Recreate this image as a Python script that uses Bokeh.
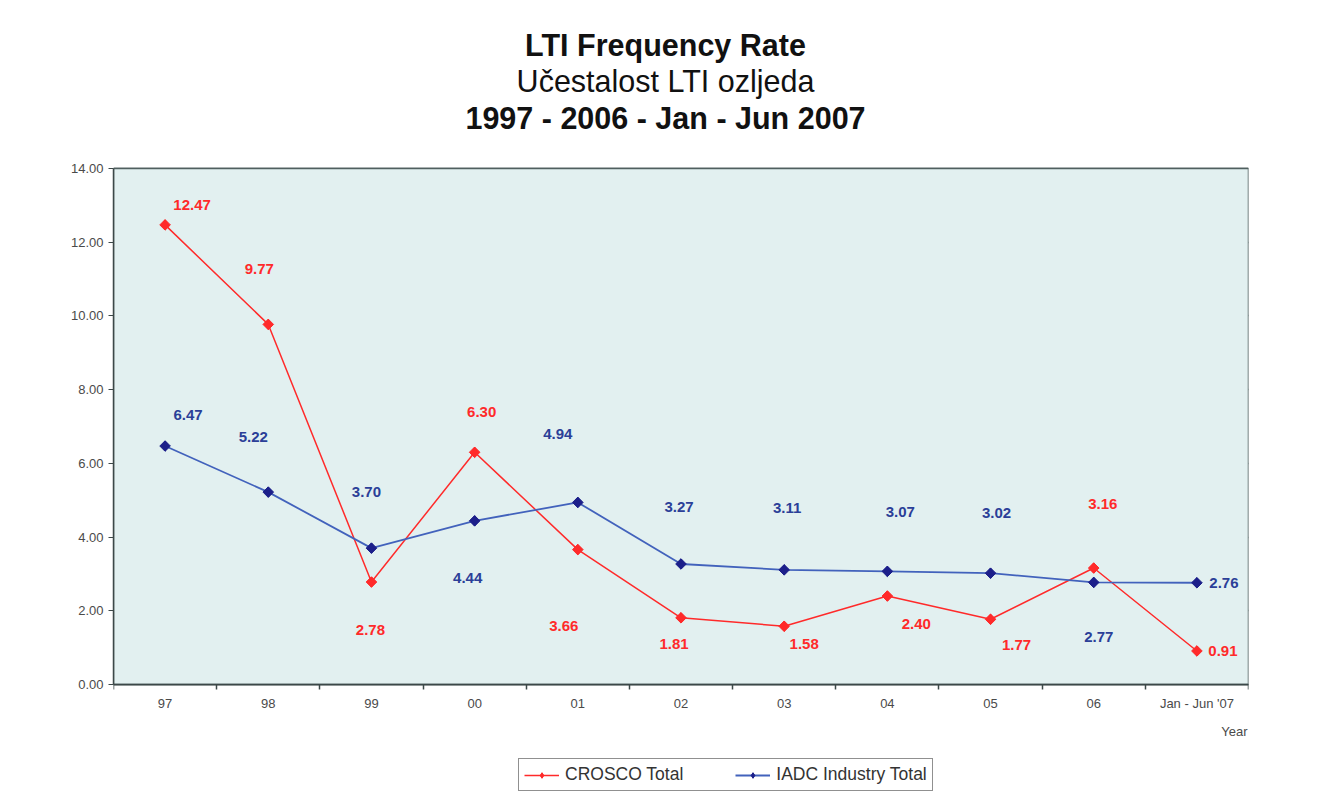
import math
from bokeh.plotting import figure
from bokeh.models import (ColumnDataSource, FixedTicker, Label, Legend, LegendItem,
                          LinearAxis, NumeralTickFormatter, Range1d)
from bokeh.core.properties import value
from bokeh.embed import file_html
from bokeh.resources import INLINE

# ---------------- data ----------------
categories = ["97", "98", "99", "00", "01", "02", "03", "04", "05", "06", "Jan - Jun '07"]
crosco = [12.47, 9.77, 2.78, 6.30, 3.66, 1.81, 1.58, 2.40, 1.77, 3.16, 0.91]
iadc = [6.47, 5.22, 3.70, 4.44, 4.94, 3.27, 3.11, 3.07, 3.02, 2.77, 2.76]
y_ticks = [0, 2, 4, 6, 8, 10, 12, 14]

# data-label placement (pixels, screen direction)
crosco_dx = [27, -9, -1, 7, -14, -7, 20, 29, 26, 9, 26]
crosco_dy = [-20, -55, 48, -40, 76, 26, 18, 28, 26, -64, 0]
iadc_dx = [23, -15, -5, -7, -20, -2, 3, 13, 6, 5, 27]
iadc_dy = [-31, -55, -56, 57, -68, -57, -62, -59, -60, 55, 0]

FONT = "Liberation Sans"
RED = "#ff2a2a"
BLUE_LINE = "#4262bc"
BLUE_MARK = "#1c1f8a"
BLUE_TEXT = "#2b3f98"
AXIS_C = "#3c4848"
TICK_C = "#4a4a4a"

# ---------------- layout (pixels) ----------------
W, H = 1314, 801
PLOT_L, PLOT_R, PLOT_T, PLOT_B = 113, 1248, 168, 684
Y_MAX = y_ticks[-1]
ppu = (PLOT_B - PLOT_T) / Y_MAX            # pixels per y unit
y_top = Y_MAX + PLOT_T / ppu               # frame extends to canvas top
y_bot = -(H - PLOT_B) / ppu                # ... and to canvas bottom
n = len(categories)

xs = [i + 0.5 for i in range(n)]

src_c = ColumnDataSource(dict(x=xs, y=crosco, t=["%.2f" % v for v in crosco],
                              dx=crosco_dx, dy=crosco_dy))
src_i = ColumnDataSource(dict(x=xs, y=iadc, t=["%.2f" % v for v in iadc],
                              dx=iadc_dx, dy=iadc_dy))

p = figure(width=W, height=H, output_backend="svg", toolbar_location=None,
           title=None, x_axis_type=None,
           x_range=Range1d(0, n), y_range=Range1d(y_bot, y_top),
           min_border_left=PLOT_L, min_border_right=W - PLOT_R,
           min_border_top=0, min_border_bottom=0)

p.background_fill_color = "white"
p.border_fill_color = "white"
p.outline_line_color = None

# plot area background
p.quad(left=[0], right=[n], bottom=[0], top=[Y_MAX], fill_color="#e2f0f0",
       line_color="#4f5f5f", line_width=1.5)

# grid
p.xgrid.visible = False
p.ygrid.ticker = FixedTicker(ticks=y_ticks)
p.ygrid.grid_line_color = "#2f3d3d"
p.ygrid.grid_line_width = 1.3

# y axis
p.yaxis.ticker = FixedTicker(ticks=y_ticks)
p.yaxis.bounds = (0, Y_MAX)
p.yaxis.formatter = NumeralTickFormatter(format="0.00")
p.yaxis.axis_line_color = AXIS_C
p.yaxis.axis_line_width = 1.5
p.yaxis.major_tick_out = 5
p.yaxis.major_tick_in = 0
p.yaxis.minor_tick_line_color = None
p.yaxis.major_tick_line_color = AXIS_C
p.yaxis.major_label_text_font = FONT
p.yaxis.major_label_text_font_size = "13px"
p.yaxis.major_label_text_color = TICK_C
p.yaxis.major_label_standoff = 5

# x axis at y = 0
xaxis = LinearAxis(fixed_location=0, bounds=(0, n),
                   ticker=FixedTicker(ticks=xs, minor_ticks=list(range(n + 1))),
                   major_label_overrides={x: c for x, c in zip(xs, categories)},
                   axis_line_color=AXIS_C, axis_line_width=1.5,
                   major_tick_out=0, major_tick_in=0,
                   minor_tick_out=5, minor_tick_in=0,
                   minor_tick_line_color=AXIS_C, minor_tick_line_width=1.5,
                   major_label_text_font=FONT, major_label_text_font_size="13px",
                   major_label_text_color=TICK_C, major_label_standoff=6)
p.add_layout(xaxis, "below")

# series: lines, narrow diamonds (used by the legend), rotated squares on top
lc = p.line("x", "y", source=src_c, line_color=RED, line_width=1.5)
dc = p.scatter("x", "y", source=src_c, marker="diamond", size=10,
               fill_color=RED, line_color=RED)
p.scatter("x", "y", source=src_c, marker="square", angle=math.pi / 4, size=7.5,
          fill_color=RED, line_color=RED)
li = p.line("x", "y", source=src_i, line_color=BLUE_LINE, line_width=1.8)
di = p.scatter("x", "y", source=src_i, marker="diamond", size=10,
               fill_color=BLUE_MARK, line_color=BLUE_MARK)
p.scatter("x", "y", source=src_i, marker="square", angle=math.pi / 4, size=7.5,
          fill_color=BLUE_MARK, line_color=BLUE_MARK)

# data labels
p.text("x", "y", text="t", source=src_c, x_offset="dx", y_offset="dy",
       text_font=value(FONT), text_font_style="bold", text_font_size="15px",
       text_color=RED, text_align="center", text_baseline="middle")
p.text("x", "y", text="t", source=src_i, x_offset="dx", y_offset="dy",
       text_font=value(FONT), text_font_style="bold", text_font_size="15px",
       text_color=BLUE_TEXT, text_align="center", text_baseline="middle")

# titles (screen units, relative to frame bottom-left)
titles = [("LTI Frequency Rate", "bold", H - 44),
          ("Učestalost LTI ozljeda", "normal", H - 80),
          ("1997 - 2006 - Jan - Jun 2007", "bold", H - 117)]
for txt, style, yy in titles:
    p.add_layout(Label(x=665 - PLOT_L, y=yy, x_units="screen", y_units="screen",
                       text=txt, text_font=FONT, text_font_style=style,
                       text_font_size="30.5px", text_color="#111111",
                       text_align="center", text_baseline="middle"))

p.add_layout(Label(x=1247 - PLOT_L, y=H - 731, x_units="screen", y_units="screen",
                   text="Year", text_font=FONT, text_font_size="13px",
                   text_color=TICK_C, text_align="right", text_baseline="middle"))

legend = Legend(items=[LegendItem(label="CROSCO Total", renderers=[lc, dc]),
                       LegendItem(label="IADC Industry Total", renderers=[li, di])],
                orientation="horizontal", location=(518 - PLOT_L, H - 791),
                label_text_font=FONT, label_text_font_size="17.5px",
                label_text_color="#333333",
                border_line_color="#222222", border_line_width=1.2,
                background_fill_color="white", background_fill_alpha=1.0,
                glyph_width=35, glyph_height=14, label_standoff=6, spacing=52,
                padding=5, margin=0)
p.add_layout(legend, "center")

open("out.html", "w").write(file_html(p, INLINE))
